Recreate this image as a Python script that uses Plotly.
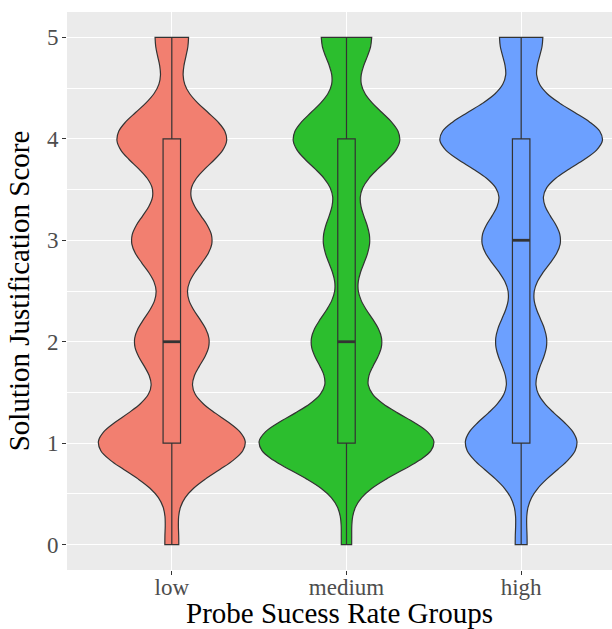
import numpy as np
import plotly.graph_objects as go

# ---- data (number of responses per score) ----
groups = ["low", "medium", "high"]
scores = [0, 1, 2, 3, 4, 5]
counts_low = [7, 75, 38, 41, 56, 17]
counts_medium = [5, 87, 35, 23, 53, 25]
counts_high = [6, 57, 26, 40, 83, 22]
y_ticks = [0, 1, 2, 3, 4, 5]

colors = ["#F27F70", "#2CBE2E", "#6CA0FF"]
edge = "#333333"
font_family = "Liberation Serif"
bw = 0.28

all_counts = [counts_low, counts_medium, counts_high]
samples = [np.repeat(scores, c).astype(float) for c in all_counts]

# equal-area scaling (as ggplot's geom_violin): widest density gets full width
grid = np.linspace(0, 5, 501)
def kde_max(v):
    d = np.exp(-0.5 * ((grid[:, None] - v[None, :]) / bw) ** 2).sum(axis=1)
    return (d / (len(v) * bw * np.sqrt(2 * np.pi))).max()
peaks = [kde_max(v) for v in samples]
top_peak = max(peaks)

fig = go.Figure()
for i, (g, vals, col, pk) in enumerate(zip(groups, samples, colors, peaks)):
    fig.add_trace(go.Violin(
        x0=i, y=vals, name=g, width=1.0 * pk / top_peak,
        scalemode="width",
        bandwidth=bw, spanmode="hard",
        fillcolor=col, line=dict(color=edge, width=1.2), opacity=1,
        points=False, box_visible=False, meanline_visible=False,
        hoverinfo="skip", showlegend=False,
    ))
    fig.add_trace(go.Box(
        x0=i, y=vals, name=g, width=0.1,
        fillcolor="rgba(0,0,0,0)", line=dict(color=edge, width=1.2),
        boxpoints=False, whiskerwidth=0, hoverinfo="skip", showlegend=False,
    ))
    med = float(np.median(vals))
    fig.add_trace(go.Scatter(
        x=[i - 0.05, i + 0.05], y=[med, med], mode="lines",
        line=dict(color=edge, width=2.8), hoverinfo="skip", showlegend=False,
    ))

fig.update_layout(
    width=612, height=629,
    margin=dict(l=67, r=0, t=12, b=59),
    plot_bgcolor="#EBEBEB", paper_bgcolor="white",
    violinmode="overlay", boxmode="overlay",
    showlegend=False,
    font=dict(family=font_family),
)
fig.update_xaxes(
    range=[-0.6, 2.52], tickmode="array", tickvals=[0, 1, 2], ticktext=groups,
    showgrid=True, gridcolor="white", gridwidth=1.1, zeroline=False,
    ticks="outside", ticklen=4, tickwidth=1.1, tickcolor=edge,
    tickfont=dict(size=23, color="#4D4D4D", family=font_family),
    ticklabelstandoff=-8,
    title=dict(text="Probe Sucess Rate Groups", standoff=0,
               font=dict(size=29, color="black", family=font_family)),
    showline=False, automargin=False,
)
fig.update_yaxes(
    range=[-0.25, 5.25], tickmode="array", tickvals=y_ticks,
    showgrid=True, gridcolor="white", gridwidth=1.1, zeroline=False,
    minor=dict(tick0=0, dtick=0.5, showgrid=True, gridcolor="white", gridwidth=0.55),
    ticks="outside", ticklen=4, tickwidth=1.1, tickcolor=edge,
    tickfont=dict(size=23, color="#4D4D4D", family=font_family),
    ticklabelstandoff=-1,
    title=dict(text="Solution Justification Score", standoff=8,
               font=dict(size=29, color="black", family=font_family)),
    showline=False, automargin=False,
)

fig.write_html(
    "out.html",
    config={"displayModeBar": False},
    post_script="document.body.style.margin='0';document.body.style.overflow='hidden';",
)
